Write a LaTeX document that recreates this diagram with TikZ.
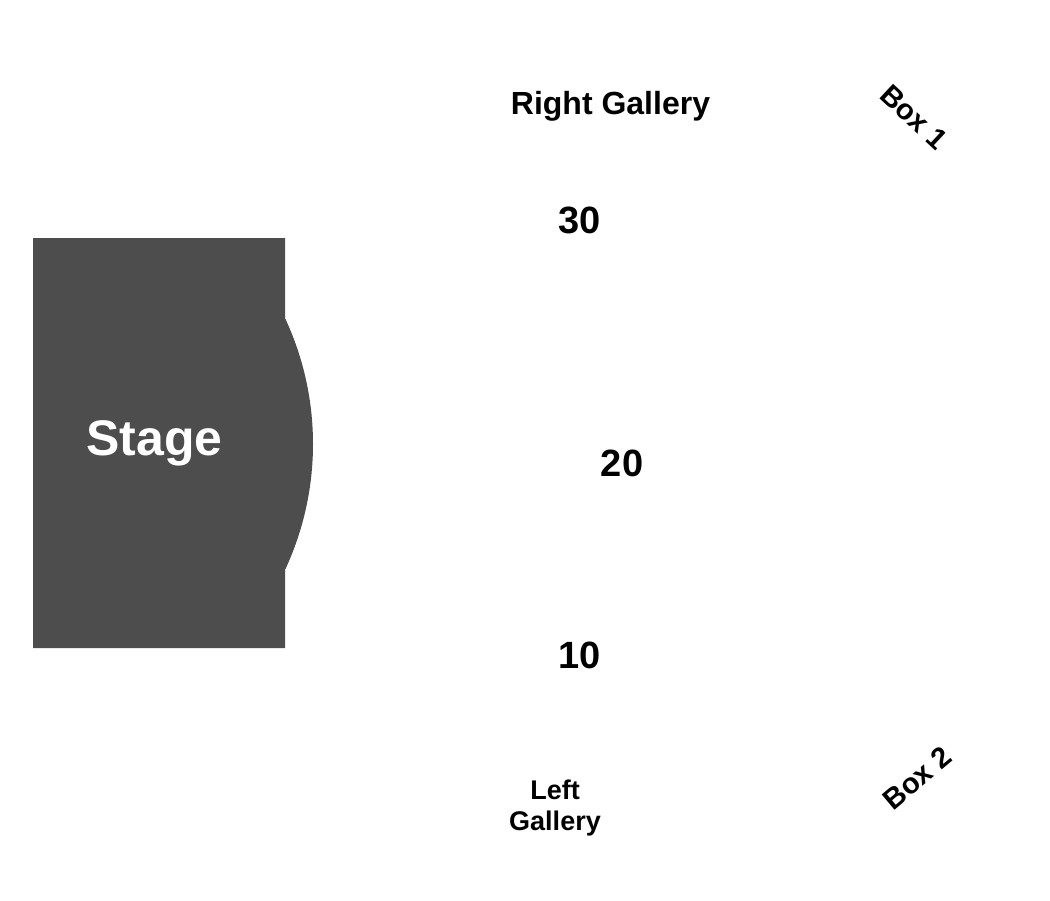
\documentclass[tikz,border=0pt]{standalone}
\usepackage{fontspec}
\setmainfont{Liberation Sans}
\definecolor{stagegray}{HTML}{4D4D4D}
\tikzset{
  lbl/.style={font=\bfseries\fontsize{#1}{#1}\selectfont, text=black, inner sep=0pt, align=center},
}
\begin{document}
\begin{tikzpicture}[x=1pt,y=1pt]
\useasboundingbox (0,0) rectangle (1050,-900);
\fill[white] (0,0) rectangle (1050,-900);
% stage
\fill[stagegray] (33,-238) -- (285,-238) -- (285,-318)
  arc[start angle=25.06, end angle=-25.06, radius=297.5]
  -- (285,-648) -- (33,-648) -- cycle;
\node[font=\bfseries\fontsize{50}{50}\selectfont, text=white, inner sep=0pt] (stage) at (154.5,-443) {Stage};
\node[lbl=32] (rg) at (610.5,-106) {Right Gallery};
\node[lbl=27] (left) at (555,-790) {Left};
\node[lbl=27] (lg) at (555,-824) {Gallery};
\node[lbl=38] (r30) at (580,-220) {30};
\node[lbl=38] (r20) at (622,-463) {20};
\node[lbl=38] (r10) at (580,-655) {10};
\node[lbl=29, rotate=-43] (b1) at (914,-117) {Box 1};
\node[lbl=29, rotate=40] (b2) at (917,-778) {Box 2};
\end{tikzpicture}
\end{document}
